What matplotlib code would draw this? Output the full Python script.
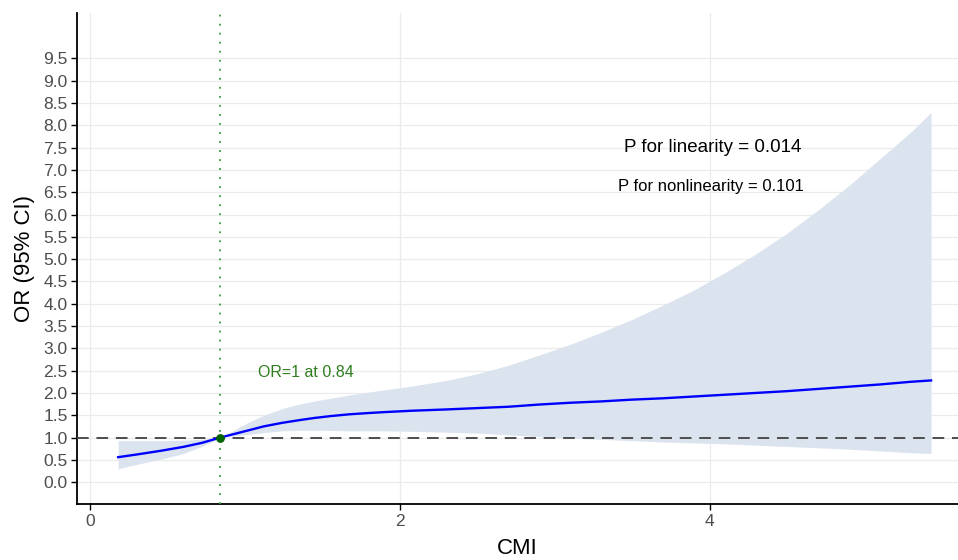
import matplotlib
matplotlib.use("Agg")
import matplotlib.pyplot as plt

plt.rcParams['font.family'] = ['Liberation Sans', 'DejaVu Sans']

# ---- data ----
cmi = [0.18, 0.30, 0.45, 0.60, 0.72, 0.84, 0.93, 1.02, 1.12, 1.24, 1.35, 1.45,
       1.55, 1.67, 1.80, 1.90, 2.07, 2.30, 2.50, 2.70, 2.90, 3.10, 3.30, 3.50,
       3.70, 3.90, 4.10, 4.30, 4.50, 4.70, 4.90, 5.10, 5.30, 5.43]
or_est = [0.56, 0.62, 0.70, 0.79, 0.88, 1.00, 1.08, 1.16, 1.25, 1.33, 1.39, 1.44,
          1.48, 1.52, 1.55, 1.57, 1.60, 1.63, 1.66, 1.69, 1.74, 1.78, 1.81, 1.85,
          1.88, 1.92, 1.96, 2.00, 2.04, 2.09, 2.14, 2.19, 2.25, 2.28]
ci_upper = [0.93, 0.93, 0.93, 0.94, 0.96, 1.00, 1.17, 1.34, 1.50, 1.65, 1.75, 1.82,
            1.88, 1.95, 2.02, 2.07, 2.15, 2.28, 2.43, 2.62, 2.85, 3.09, 3.36, 3.65,
            3.97, 4.31, 4.70, 5.12, 5.58, 6.10, 6.65, 7.25, 7.85, 8.29]
ci_lower = [0.30, 0.40, 0.51, 0.64, 0.80, 1.00, 1.04, 1.07, 1.11, 1.15, 1.16, 1.16,
            1.16, 1.15, 1.15, 1.15, 1.14, 1.12, 1.10, 1.06, 1.02, 0.99, 0.96, 0.93,
            0.90, 0.88, 0.86, 0.83, 0.80, 0.77, 0.74, 0.70, 0.66, 0.64]
ref_x = 0.84
ref_y = 1.0
x_ticks = [0, 2, 4]
y_ticks = [i * 0.5 for i in range(20)]
y_ticklabels = [f"{v:.1f}" for v in y_ticks]
p_linear = "P for linearity = 0.014"
p_nonlinear = "P for nonlinearity = 0.101"
ref_label = "OR=1 at 0.84"

fig = plt.figure(figsize=(9.58, 5.60), dpi=100)
ax = fig.add_axes([0.0807, 0.1, 0.9193, 0.877])

ax.fill_between(cmi, ci_lower, ci_upper, color="#DAE3EE", linewidth=0, zorder=2)
ax.plot(cmi, or_est, color="#0000FF", lw=1.7, zorder=4)
ax.axhline(ref_y, color="#4D4D4D", lw=1.4, ls=(0, (6, 4)), zorder=3)
ax.axvline(ref_x, color="#3A9A3A", lw=1.3, ls=(0, (1, 4)), zorder=3)
ax.scatter([ref_x], [ref_y], s=28, color="#006400", zorder=5)

ax.text(1.39, 2.45, ref_label, color="#2E7D1E", fontsize=11.5, ha="center", va="center")
ax.text(4.02, 7.5, p_linear, color="black", fontsize=13.5, ha="center", va="center")
ax.text(4.01, 6.63, p_nonlinear, color="black", fontsize=12, ha="center", va="center")

ax.set_xlim(-0.084, 5.604)
ax.set_ylim(-0.49, 10.52)
ax.set_xticks(x_ticks)
ax.set_xticklabels([str(v) for v in x_ticks])
ax.set_yticks(y_ticks)
ax.set_yticklabels(y_ticklabels)

ax.grid(True, color="#EBEBEB", lw=0.9, zorder=0)
ax.set_axisbelow(True)
for s in ["top", "right"]:
    ax.spines[s].set_visible(False)
for s in ["left", "bottom"]:
    ax.spines[s].set_color("black")
    ax.spines[s].set_linewidth(1.3)
ax.tick_params(axis="both", colors="black", labelcolor="#4D4D4D", labelsize=12.5,
               length=4, width=1.0, pad=3)

ax.set_xlabel("CMI", fontsize=16, color="black", labelpad=7)
ax.set_ylabel("OR (95% CI)", fontsize=16, color="black", labelpad=6)

fig.savefig("out.png", dpi=100)
